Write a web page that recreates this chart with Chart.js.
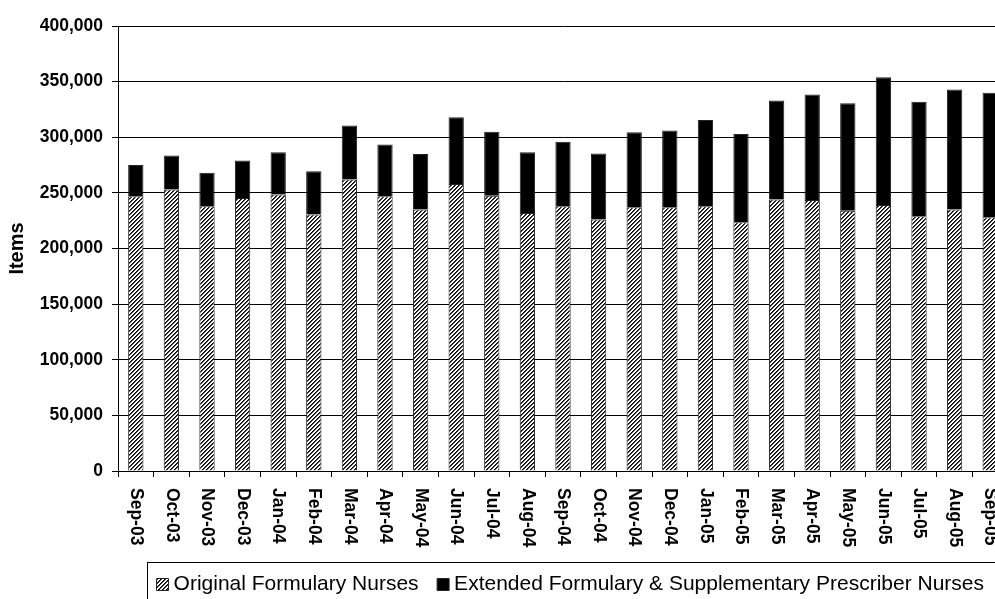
<!DOCTYPE html>
<html>
<head>
<meta charset="utf-8">
<script src="https://cdn.jsdelivr.net/npm/chart.js@4"></script>
<style>
  html, body { margin: 0; padding: 0; background: #fff; overflow: hidden; }
  #wrap { width: 1147px; height: 605px; }
</style>
</head>
<body>
<div id="wrap"><canvas id="c" width="1147" height="605"></canvas></div>
<script>
const months = ["Sep-03","Oct-03","Nov-03","Dec-03","Jan-04","Feb-04","Mar-04","Apr-04","May-04","Jun-04","Jul-04","Aug-04","Sep-04","Oct-04","Nov-04","Dec-04","Jan-05","Feb-05","Mar-05","Apr-05","May-05","Jun-05","Jul-05","Aug-05","Sep-05"];
const originalNurses = [247000, 253000, 238000, 245500, 248500, 230500, 262000, 247000, 235000, 258000, 247500, 232000, 238000, 226000, 237000, 237000, 238000, 223500, 244000, 243500, 234000, 239000, 229000, 235000, 228000];
const extendedNurses = [28000, 30500, 30000, 33500, 38000, 39000, 48500, 46500, 50000, 60000, 57500, 54500, 58000, 59500, 67500, 69000, 77500, 79500, 89000, 95000, 96500, 115000, 103000, 108000, 112000];
const yTickValues = [0, 50000, 100000, 150000, 200000, 250000, 300000, 350000, 400000];
const seriesNames = ["Original Formulary Nurses", "Extended Formulary & Supplementary Prescriber Nurses"];
const yTitle = "Items";

function makeHatch() {
  const p = document.createElement('canvas');
  p.width = 4; p.height = 4;
  const g = p.getContext('2d');
  g.fillStyle = '#fff';
  g.fillRect(0, 0, 4, 4);
  for (let i = 0; i < 4; i++) {
    g.fillStyle = '#000';
    g.fillRect(i, 3 - i, 1, 1);
    g.fillStyle = '#444';
    g.fillRect(i, (4 - i) % 4, 1, 1);
  }
  return g.createPattern(p, 'repeat');
}

const ctx = document.getElementById('c').getContext('2d');
const hatch = makeHatch();
const FONT = "'Liberation Sans', Arial, sans-serif";

const xLabelPlugin = {
  id: 'xLabels',
  afterDraw(chart) {
    const sc = chart.scales.x;
    const c = chart.ctx;
    c.save();
    c.font = "bold 17.5px " + FONT;
    c.fillStyle = '#000';
    c.textAlign = 'left';
    c.textBaseline = 'middle';
    chart.data.labels.forEach((lab, i) => {
      const x = sc.getPixelForTick(i);
      c.save();
      c.translate(x, sc.top + 17);
      c.rotate(Math.PI / 2);
      c.fillText(lab, 0, 0);
      c.restore();
    });
    c.restore();
  }
};

const legendBorderPlugin = {
  id: 'legendBorder',
  afterDraw(chart) {
    const lg = chart.legend;
    if (!lg || !lg.legendHitBoxes || !lg.legendHitBoxes.length) return;
    const hb = lg.legendHitBoxes;
    const left = Math.round(hb[0].left - 15.5) + 0.5;
    const last = hb[hb.length - 1];
    const right = Math.round(last.left + last.width + 15) + 0.5;
    const c = chart.ctx;
    c.save();
    c.strokeStyle = '#000';
    c.lineWidth = 1;
    c.strokeRect(left, 562.5, right - left, 42);
    c.restore();
  }
};

new Chart(ctx, {
  type: 'bar',
  data: {
    labels: months,
    datasets: [
      { label: seriesNames[0], data: originalNurses, backgroundColor: hatch, borderColor: '#222', borderWidth: 1 },
      { label: seriesNames[1], data: extendedNurses, backgroundColor: '#000', borderColor: '#222', borderWidth: 1 }
    ]
  },
  options: {
    responsive: false,
    animation: false,
    devicePixelRatio: 1,
    layout: { padding: { top: 26, left: 0, right: 139, bottom: 0 } },
    datasets: { bar: { categoryPercentage: 1, barPercentage: 0.43 } },
    plugins: {
      tooltip: { enabled: false },
      legend: {
        position: 'bottom',
        align: 'end',
        labels: {
          usePointStyle: true,
          pointStyle: 'rect',
          boxWidth: 1,
          boxHeight: 12,
          padding: 24,
          color: '#000',
          font: { family: FONT, size: 21 }
        }
      }
    },
    scales: {
      x: {
        stacked: true,
        offset: true,
        grid: { offset: true, drawOnChartArea: false, drawTicks: true, tickLength: 6, color: '#000', lineWidth: 1 },
        border: { display: true, color: '#000', width: 1 },
        ticks: { display: false, autoSkip: false },
        afterFit(scale) { scale.height = 79; }
      },
      y: {
        stacked: true,
        min: 0,
        max: 400000,
        afterBuildTicks(scale) { scale.ticks = yTickValues.map(v => ({ value: v })); },
        grid: { color: '#000', lineWidth: 1, drawTicks: true, tickLength: 6 },
        border: { display: true, color: '#000', width: 1 },
        ticks: {
          padding: 9,
          color: '#000',
          font: { family: FONT, size: 17.5, weight: 'bold' },
          callback: v => Number(v).toLocaleString('en-US')
        },
        title: {
          display: true,
          text: yTitle,
          color: '#000',
          font: { family: FONT, size: 20, weight: 'bold' },
          padding: { top: 5, bottom: 0 }
        },
        afterFit(scale) { scale.width = 118; }
      }
    }
  },
  plugins: [xLabelPlugin, legendBorderPlugin]
});
</script>
</body>
</html>
